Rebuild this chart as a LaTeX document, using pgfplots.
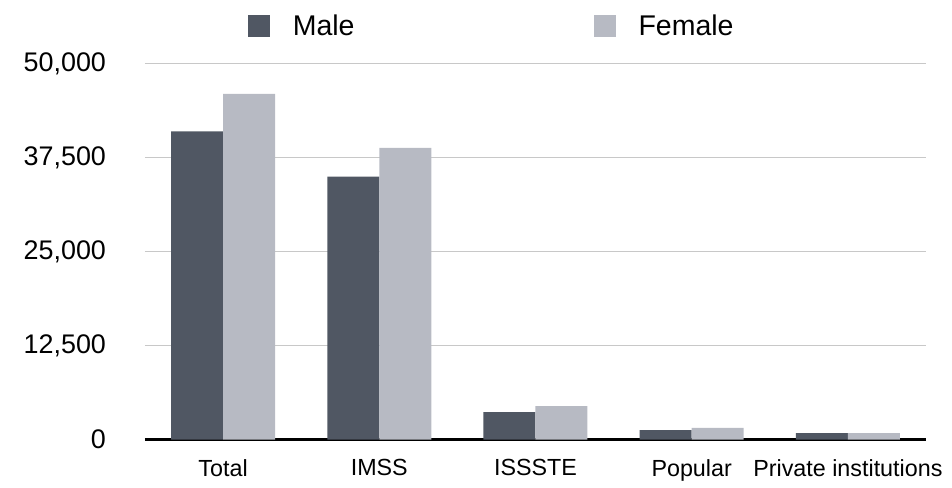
\documentclass[border=0pt]{standalone}
\usepackage{fontspec}
\setmainfont{Liberation Sans}
\usepackage{pgfplots}
\pgfplotsset{compat=1.18}
\definecolor{male}{RGB}{80,87,99}
\definecolor{female}{RGB}{183,186,195}
\definecolor{gridc}{RGB}{200,200,200}
\begin{document}
\begin{tikzpicture}
\begin{axis}[
 at={(0,0)}, anchor=south west,
 scale only axis, width=390.5bp, height=187.85bp,
 xmin=-0.5, xmax=4.5, ymin=0, ymax=50000,
 enlargelimits=false,
 ybar=0pt, bar width=26bp,
 xtick={0,1,2,3,4},
 xticklabels={Total,IMSS,ISSSTE,Popular,Private institutions},
 ytick={0,12500,25000,37500,50000},
 scaled y ticks=false,
 /pgf/number format/assume math mode=true,
 /pgf/number format/1000 sep={,},
 axis x line*=bottom, axis y line*=left,
 y axis line style={draw=none},
 x axis line style={black, line width=1.1bp},
 major tick length=0pt, tick style={draw=none},
 ymajorgrids, grid style={gridc, line width=0.6bp},
 yticklabel style={font=\fontsize{13.5}{15}\selectfont, xshift=-16bp},
 xticklabel style={font=\fontsize{11.7}{13}\selectfont, yshift=-6.5bp},
 legend style={at={(0.1235,1.10)}, anchor=west, draw=none, fill=none,
   legend columns=2, font=\fontsize{14.3}{16}\selectfont,
   /tikz/every odd column/.append style={column sep=9.5bp},
   /tikz/every even column/.append style={column sep=117.5bp}},
 legend image code/.code={\fill[#1] (0bp,-5.5bp) rectangle (11bp,5.5bp);},
]
\addplot[fill=male, draw=none] coordinates {(0,41000) (1,35000) (2,3650) (3,1250) (4,850)};
\addplot[fill=female, draw=none] coordinates {(0,46000) (1,38800) (2,4450) (3,1550) (4,850)};
\legend{Male,Female}
\end{axis}
\pgfresetboundingbox
\useasboundingbox (-72.5bp,-24.25bp) rectangle (403.5bp,219.75bp);
\end{tikzpicture}
\end{document}
